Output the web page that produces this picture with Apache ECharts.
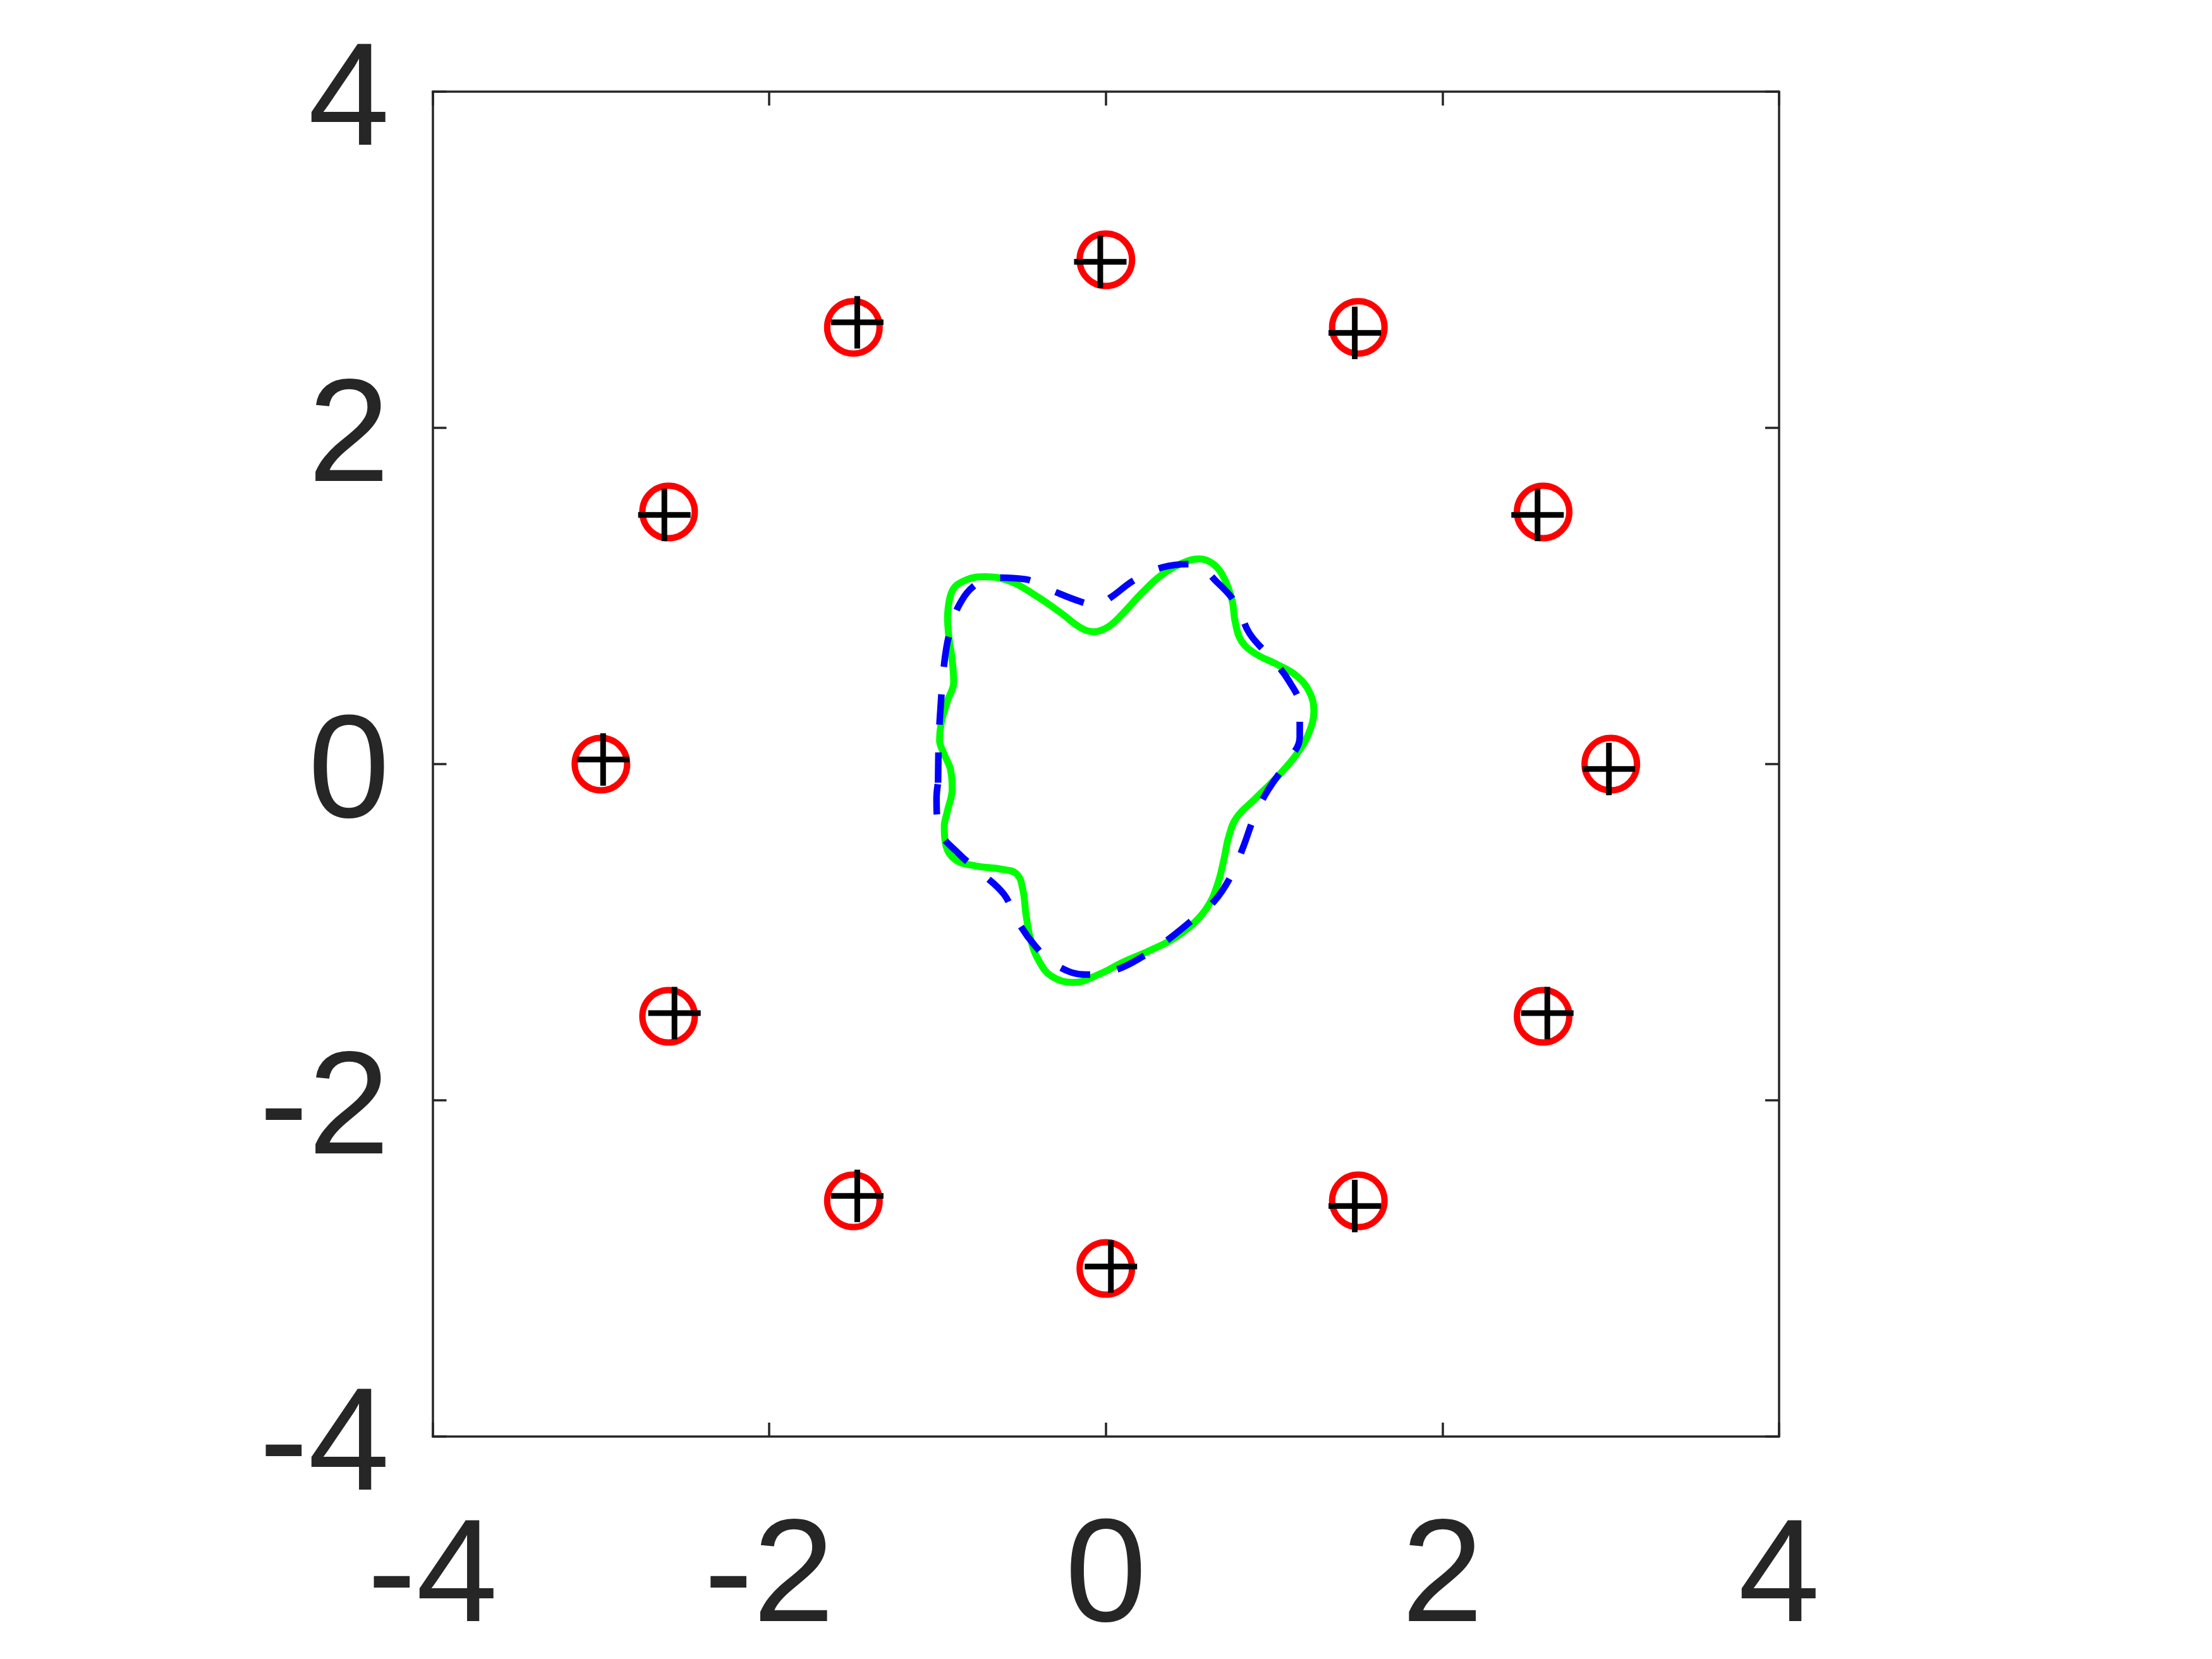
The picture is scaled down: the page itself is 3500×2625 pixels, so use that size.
<!DOCTYPE html>
<html>
<head>
    <meta charset="utf-8">
    <script src="https://cdn.jsdelivr.net/npm/echarts@6/dist/echarts.min.js"></script>
    <style>
        html, body { margin: 0; padding: 0; background: #fff; }
    </style>
</head>
<body>
    <div id="main" style="width: 3500px;height:2625px;"></div>
    <script type="text/javascript">
        // tick labels (same on both axes)
        var xTicks = [-4, -2, 0, 2, 4];
        var yTicks = [-4, -2, 0, 2, 4];

        // red circles
        var circlePts = [
            [0, 3], [1.5, 2.598], [2.598, 1.5], [3, 0], [2.598, -1.5], [1.5, -2.598],
            [0, -3], [-1.5, -2.598], [-2.598, -1.5], [-3, 0], [-2.598, 1.5], [-1.5, 2.598]
        ];

        // black plus signs
        var plusPts = [
            [-0.033, 2.988], [1.479, 2.565], [2.565, 1.482], [2.989, -0.029], [2.623, -1.481], [1.479, -2.629],
            [0.030, -2.989], [-1.477, -2.569], [-2.563, -1.481], [-2.987, 0.027], [-2.623, 1.482], [-1.477, 2.628]
        ];

        // green solid curve
        var greenCurve = [
            [-0.941, 0.862], [-0.913, 1.030], [-0.829, 1.096], [-0.717, 1.115], [-0.567, 1.087],
            [-0.418, 1.003], [-0.268, 0.900], [-0.156, 0.815], [-0.072, 0.787], [0.012, 0.815],
            [0.105, 0.900], [0.217, 1.021], [0.330, 1.124], [0.442, 1.190], [0.554, 1.221],
            [0.638, 1.190], [0.703, 1.105], [0.750, 0.974], [0.769, 0.843], [0.806, 0.731],
            [0.890, 0.656], [1.021, 0.591], [1.133, 0.525], [1.208, 0.432], [1.236, 0.320],
            [1.208, 0.189], [1.133, 0.058], [1.021, -0.073], [0.890, -0.204], [0.778, -0.316],
            [0.731, -0.429], [0.703, -0.560], [0.666, -0.709], [0.610, -0.840], [0.526, -0.943],
            [0.404, -1.037], [0.255, -1.112], [0.105, -1.177], [-0.044, -1.252], [-0.193, -1.299],
            [-0.324, -1.261], [-0.399, -1.168], [-0.446, -1.046], [-0.474, -0.897], [-0.493, -0.747],
            [-0.530, -0.653], [-0.623, -0.625], [-0.773, -0.606], [-0.894, -0.569], [-0.950, -0.485],
            [-0.960, -0.373], [-0.941, -0.279], [-0.913, -0.148], [-0.922, -0.036], [-0.960, 0.058],
            [-0.988, 0.142], [-0.978, 0.245], [-0.941, 0.376], [-0.904, 0.488], [-0.913, 0.619],
            [-0.932, 0.750], [-0.941, 0.862]
        ];

        // blue dashed curve
        var blueCurve = [
            [-0.997, -0.111], [-0.993, 0.151], [-0.988, 0.245], [-0.960, 0.600], [-0.922, 0.806],
            [-0.866, 0.956], [-0.773, 1.068], [-0.661, 1.109], [-0.483, 1.100], [-0.315, 1.030],
            [-0.147, 0.965], [-0.053, 0.946], [0.031, 0.993], [0.171, 1.096], [0.339, 1.171],
            [0.517, 1.190], [0.666, 1.077], [0.778, 0.946], [0.853, 0.778], [0.974, 0.638],
            [1.086, 0.497], [1.152, 0.338], [1.152, 0.160], [1.068, 0.001], [0.956, -0.167],
            [0.881, -0.317], [0.816, -0.494], [0.750, -0.653], [0.647, -0.812], [0.517, -0.925],
            [0.367, -1.046], [0.227, -1.140], [0.059, -1.224], [-0.119, -1.252], [-0.296, -1.196],
            [-0.418, -1.084], [-0.530, -0.925], [-0.605, -0.775], [-0.745, -0.644], [-0.875, -0.532],
            [-0.988, -0.391], [-1.006, -0.204], [-0.997, -0.111]
        ];

        var axisColor = '#262626';
        var plusPath = 'path://M44.6,0H55.4V44.6H100V55.4H55.4V100H44.6V55.4H0V44.6H44.6Z';

        function makeAxis(ticks, pos, showLabel, margin, extraLabel) {
            var label = {
                show: showLabel,
                margin: margin,
                color: axisColor,
                fontFamily: 'Liberation Sans',
                fontSize: 232
            };
            for (var k in extraLabel) {
                label[k] = extraLabel[k];
            }
            return {
                type: 'value',
                position: pos,
                min: ticks[0],
                max: ticks[ticks.length - 1],
                interval: ticks[1] - ticks[0],
                splitLine: {show: false},
                axisLine: {show: true, onZero: false, lineStyle: {color: axisColor, width: 3.5}},
                axisTick: {show: true, inside: true, length: 22, lineStyle: {color: axisColor, width: 3.5}},
                axisLabel: label
            };
        }

        var option = {
            animation: false,
            backgroundColor: '#ffffff',
            grid: {
                left: 684.5,
                right: 685,
                top: 145,
                bottom: 352,
                containLabel: false,
                outerBoundsMode: 'none'
            },
            xAxis: [
                makeAxis(xTicks, 'bottom', true, 112, {}),
                makeAxis(xTicks, 'top', false, 0, {})
            ],
            yAxis: [
                makeAxis(yTicks, 'left', true, 68, {verticalAlign: 'top', lineHeight: 40}),
                makeAxis(yTicks, 'right', false, 0, {})
            ],
            series: [
                {
                    name: 'circles',
                    type: 'scatter',
                    symbol: 'circle',
                    symbolSize: 83,
                    itemStyle: {color: 'rgba(0,0,0,0)', borderColor: '#ff0000', borderWidth: 10, opacity: 1},
                    data: circlePts
                },
                {
                    name: 'plus',
                    type: 'scatter',
                    symbol: plusPath,
                    symbolSize: 83,
                    itemStyle: {color: '#000000', borderWidth: 0, opacity: 1},
                    data: plusPts
                },
                {
                    name: 'green',
                    type: 'line',
                    smooth: 0.4,
                    showSymbol: false,
                    lineStyle: {color: '#00ff00', width: 11},
                    data: greenCurve
                },
                {
                    name: 'blue',
                    type: 'line',
                    smooth: 0.4,
                    showSymbol: false,
                    lineStyle: {color: '#0000ff', width: 10.5, type: [48, 44]},
                    data: blueCurve
                }
            ]
        };

        var myChart = echarts.init(document.getElementById('main'));
        myChart.setOption(option);
    </script>
</body>
</html>
